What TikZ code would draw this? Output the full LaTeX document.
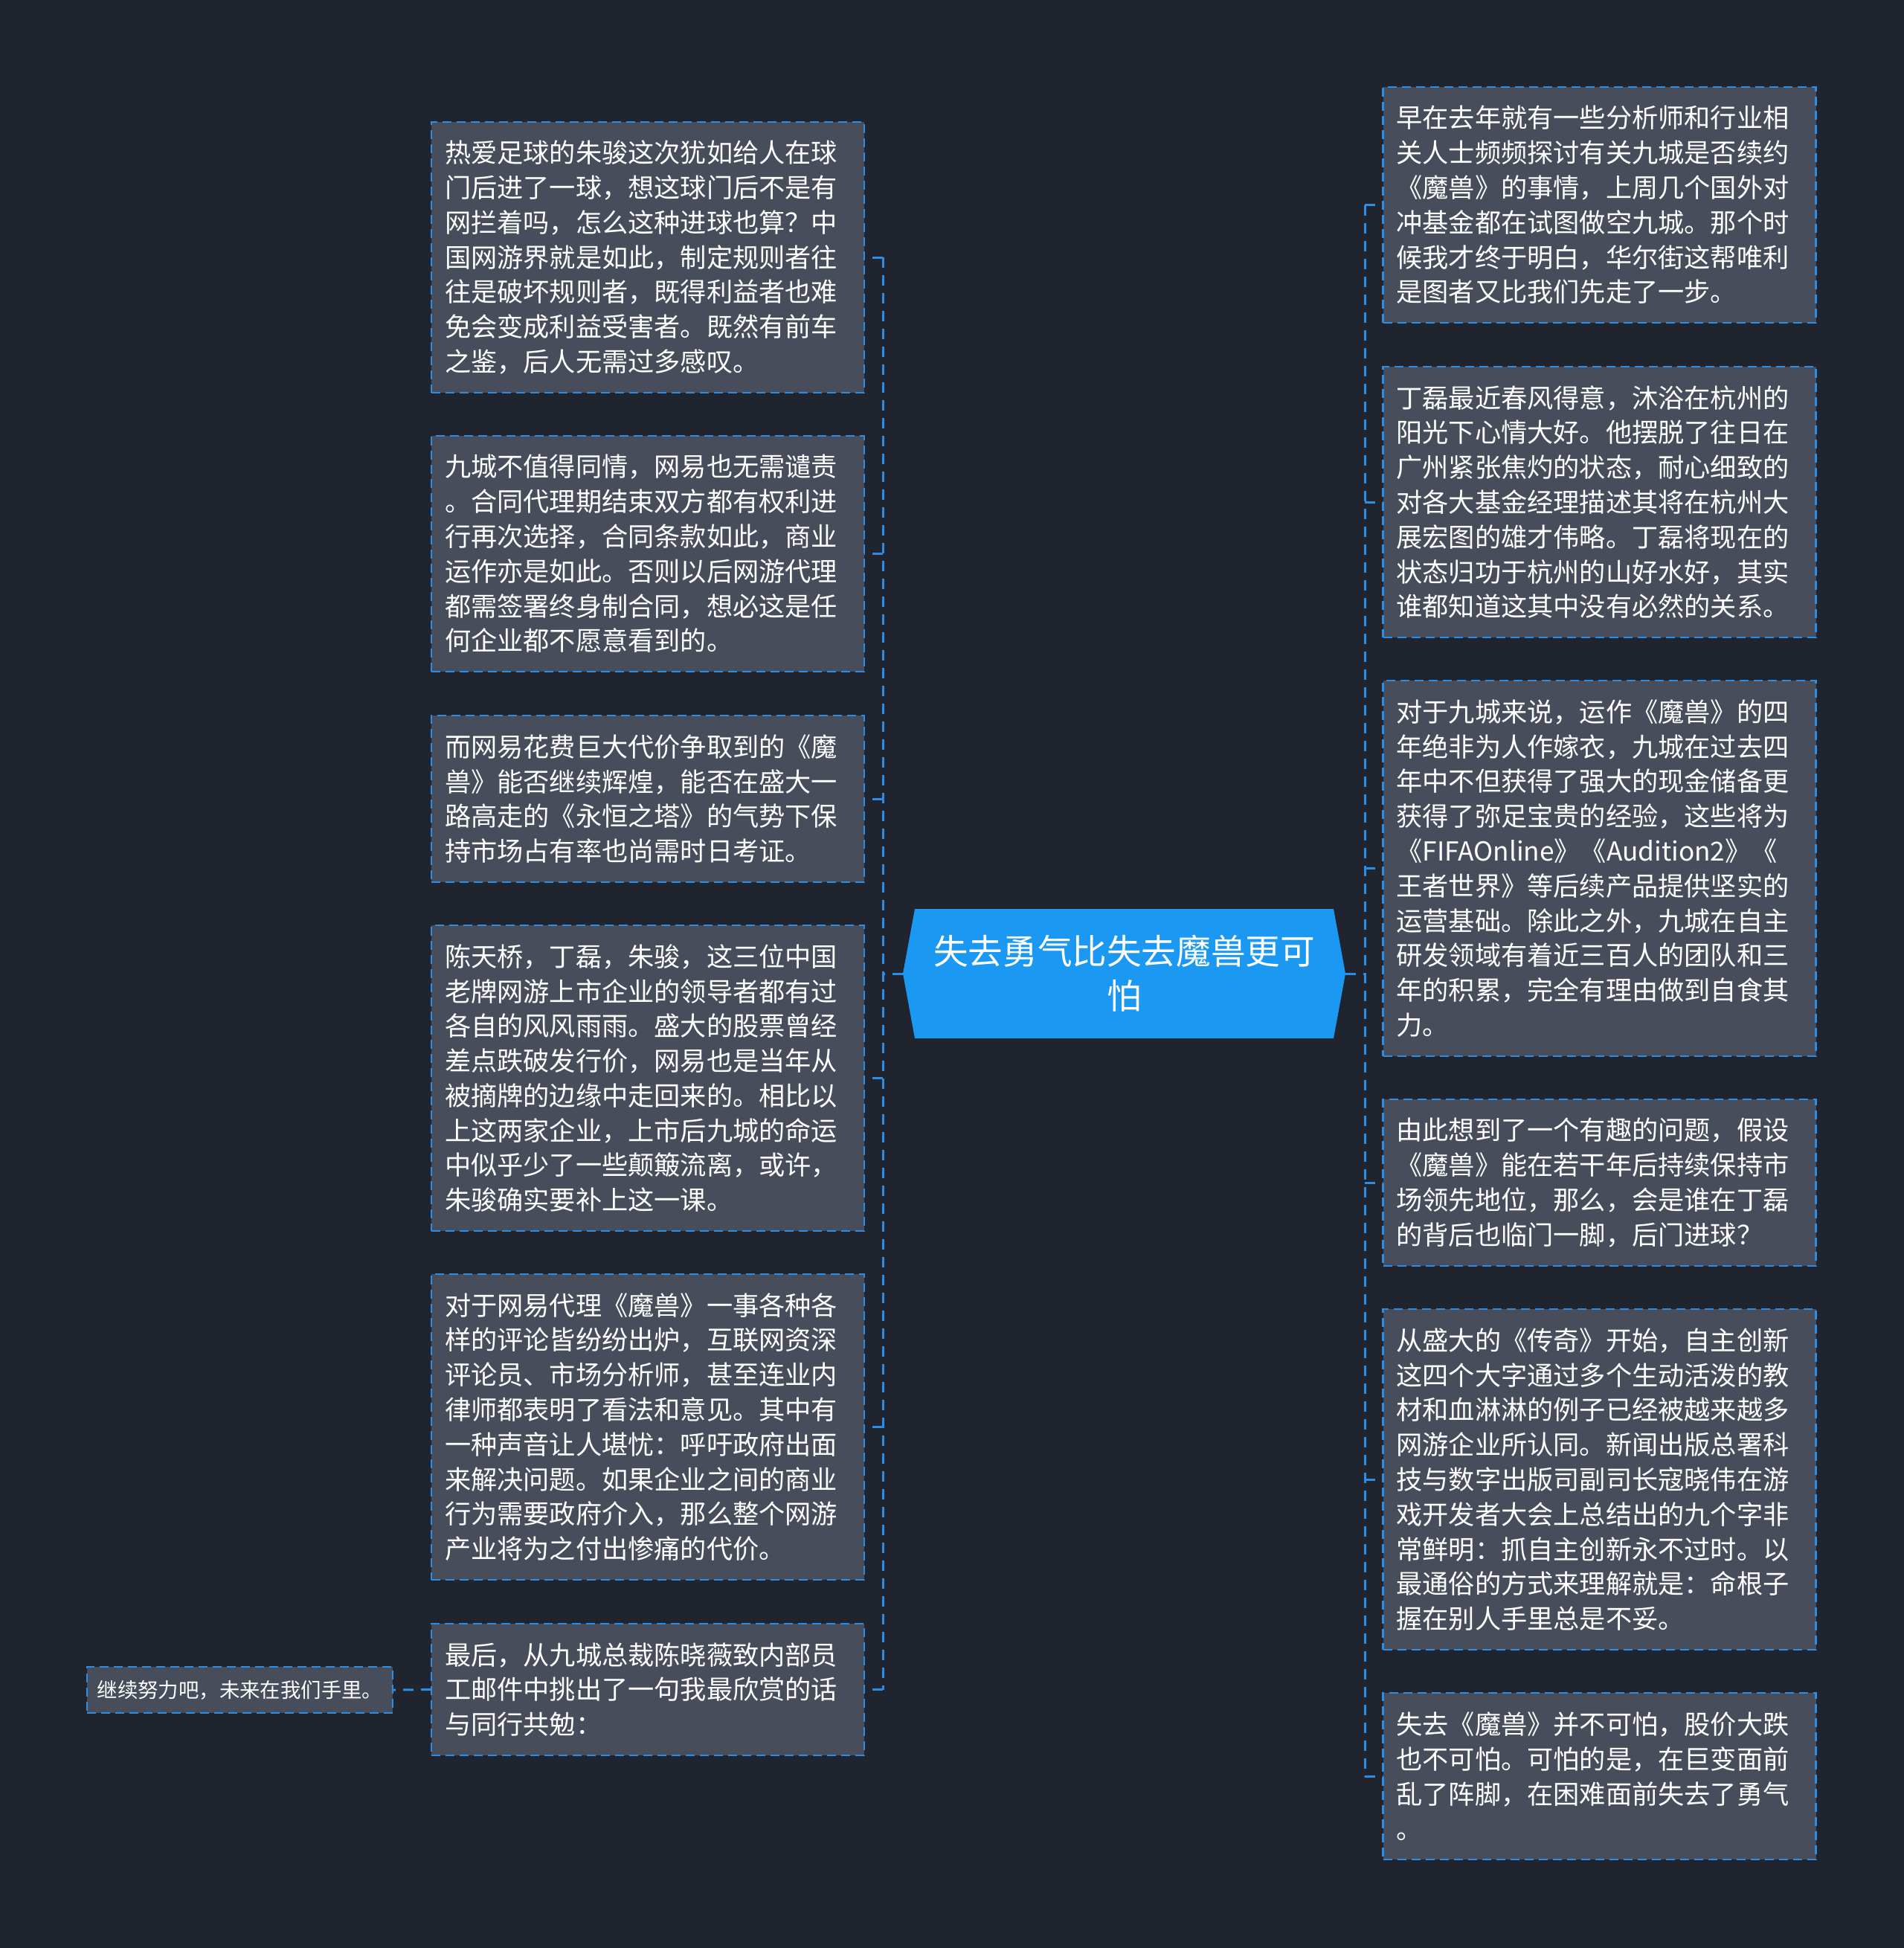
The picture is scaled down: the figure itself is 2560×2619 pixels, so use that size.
\documentclass[tikz,border=0pt]{standalone}
\usepackage{fontspec}
\setmainfont{Noto Sans CJK SC}
\pgfdeclarelayer{back}
\pgfdeclarelayer{mid}
\pgfsetlayers{back,mid,main}
\definecolor{bgc}{HTML}{20242F}
\definecolor{boxc}{HTML}{474D5B}
\definecolor{bordc}{HTML}{2A8EE6}
\definecolor{rootc}{HTML}{1A98F2}
\tikzset{
  box/.style={rectangle, fill=boxc, draw=bordc, line width=1.2pt,
    dash pattern=on 6pt off 3.5pt, text=white, inner xsep=9pt, inner ysep=0pt,
    outer sep=0pt, text width=273pt, align=left,
    font=\fontsize{17.6pt}{23.4pt}\selectfont},
  leafbox/.style={rectangle, fill=boxc, draw=bordc, line width=1.2pt,
    dash pattern=on 6pt off 3.5pt, text=white, inner sep=0pt, outer sep=0pt,
    minimum width=205.5pt, minimum height=31pt, align=center,
    font=\fontsize{13.7pt}{16pt}\selectfont},
  rootn/.style={rectangle, inner sep=0pt, outer sep=0pt, minimum width=297.5pt,
    minimum height=87pt, align=center, text=white,
    font=\fontsize{23.3pt}{30pt}\selectfont},
  conn/.style={draw=bordc, line width=1.5pt, dash pattern=on 7pt off 5pt}
}
\begin{document}
\begin{tikzpicture}[x=0.5pt, y=-0.5pt]
\useasboundingbox (0,0) rectangle (2560,2619);
\begin{pgfonlayer}{back}
\fill[bgc] (0,0) rectangle (2560,2619);
\end{pgfonlayer}

% root
\node[rootn] (root) at (1511.5,1309) {失去勇气比失去魔兽更可\\怕};
\begin{pgfonlayer}{mid}
\fill[rootc] (root.west) -- ([xshift=8pt]root.north west) -- ([xshift=-8pt]root.north east)
  -- (root.east) -- ([xshift=-8pt]root.south east) -- ([xshift=8pt]root.south west) -- cycle;
\end{pgfonlayer}

% left boxes
\node[box, minimum height=182pt] (L1) at (871,346) {热爱足球的朱骏这次犹如给人在球\\门后进了一球，想这球门后不是有\\网拦着吗，怎么这种进球也算？中\\国网游界就是如此，制定规则者往\\往是破坏规则者，既得利益者也难\\免会变成利益受害者。既然有前车\\之鉴，后人无需过多感叹。};
\node[box, minimum height=158.5pt] (L2) at (871,744.5) {九城不值得同情，网易也无需谴责\\。合同代理期结束双方都有权利进\\行再次选择，合同条款如此，商业\\运作亦是如此。否则以后网游代理\\都需签署终身制合同，想必这是任\\何企业都不愿意看到的。};
\node[box, minimum height=112pt] (L3) at (871,1074) {而网易花费巨大代价争取到的《魔\\兽》能否继续辉煌，能否在盛大一\\路高走的《永恒之塔》的气势下保\\持市场占有率也尚需时日考证。};
\node[box, minimum height=205.5pt] (L4) at (871,1449.5) {陈天桥，丁磊，朱骏，这三位中国\\老牌网游上市企业的领导者都有过\\各自的风风雨雨。盛大的股票曾经\\差点跌破发行价，网易也是当年从\\被摘牌的边缘中走回来的。相比以\\上这两家企业，上市后九城的命运\\中似乎少了一些颠簸流离，或许，\\朱骏确实要补上这一课。};
\node[box, minimum height=205.5pt] (L5) at (871,1918.5) {对于网易代理《魔兽》一事各种各\\样的评论皆纷纷出炉，互联网资深\\评论员、市场分析师，甚至连业内\\律师都表明了看法和意见。其中有\\一种声音让人堪忧：呼吁政府出面\\来解决问题。如果企业之间的商业\\行为需要政府介入，那么整个网游\\产业将为之付出惨痛的代价。};
\node[box, minimum height=88.5pt] (L6) at (871,2271.5) {最后，从九城总裁陈晓薇致内部员\\工邮件中挑出了一句我最欣赏的话\\与同行共勉：};
\node[leafbox] (leaf) at (322.5,2272) {继续努力吧，未来在我们手里。};

% right boxes
\node[box, minimum height=158.5pt] (R1) at (2150.5,275.5) {早在去年就有一些分析师和行业相\\关人士频频探讨有关九城是否续约\\《魔兽》的事情，上周几个国外对\\冲基金都在试图做空九城。那个时\\候我才终于明白，华尔街这帮唯利\\是图者又比我们先走了一步。};
\node[box, minimum height=182pt] (R2) at (2150.5,675) {丁磊最近春风得意，沐浴在杭州的\\阳光下心情大好。他摆脱了往日在\\广州紧张焦灼的状态，耐心细致的\\对各大基金经理描述其将在杭州大\\展宏图的雄才伟略。丁磊将现在的\\状态归功于杭州的山好水好，其实\\谁都知道这其中没有必然的关系。};
\node[box, minimum height=252.5pt] (R3) at (2150.5,1167.5) {对于九城来说，运作《魔兽》的四\\年绝非为人作嫁衣，九城在过去四\\年中不但获得了强大的现金储备更\\获得了弥足宝贵的经验，这些将为\\《FIFAOnline》《Audition2》《\\王者世界》等后续产品提供坚实的\\运营基础。除此之外，九城在自主\\研发领域有着近三百人的团队和三\\年的积累，完全有理由做到自食其\\力。};
\node[box, minimum height=112pt] (R4) at (2150.5,1590) {由此想到了一个有趣的问题，假设\\《魔兽》能在若干年后持续保持市\\场领先地位，那么，会是谁在丁磊\\的背后也临门一脚，后门进球？};
\node[box, minimum height=229pt] (R5) at (2150.5,1989) {从盛大的《传奇》开始，自主创新\\这四个大字通过多个生动活泼的教\\材和血淋淋的例子已经被越来越多\\网游企业所认同。新闻出版总署科\\技与数字出版司副司长寇晓伟在游\\戏开发者大会上总结出的九个字非\\常鲜明：抓自主创新永不过时。以\\最通俗的方式来理解就是：命根子\\握在别人手里总是不妥。};
\node[box, minimum height=112pt] (R6) at (2150.5,2388) {失去《魔兽》并不可怕，股价大跌\\也不可怕。可怕的是，在巨变面前\\乱了阵脚，在困难面前失去了勇气\\。};

% connectors
\coordinate (lsp) at (1187,1309);
\coordinate (rsp) at (1835,1309);
\begin{pgfonlayer}{mid}
\draw[conn] (root.west) -- (lsp);
\draw[conn] (L1.east -| lsp) -- (L6.east -| lsp);
\foreach \n in {L1,L2,L3,L4,L5,L6} \draw[conn] (\n.east -| lsp) -- (\n.east);
\draw[conn] (root.east) -- (rsp);
\draw[conn] (R1.west -| rsp) -- (R6.west -| rsp);
\foreach \n in {R1,R2,R3,R4,R5,R6} \draw[conn] (\n.west -| rsp) -- (\n.west);
\draw[conn] (L6.west) -- (leaf.east);
\end{pgfonlayer}
\end{tikzpicture}
\end{document}
